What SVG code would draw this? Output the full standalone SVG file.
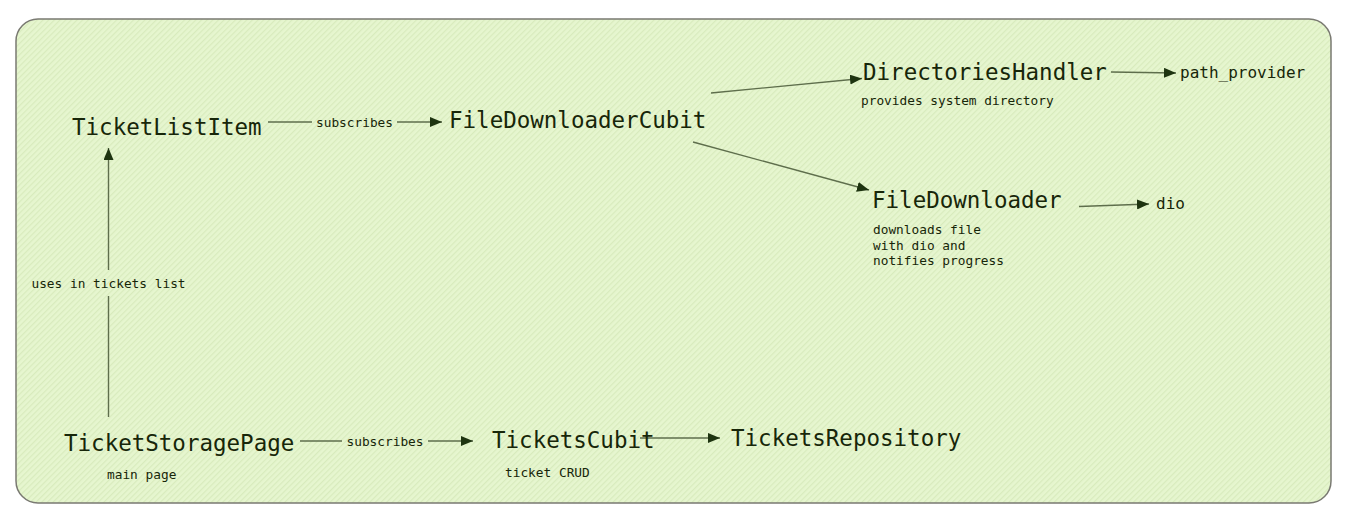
<svg xmlns="http://www.w3.org/2000/svg" width="1357" height="525" viewBox="0 0 1357 525">
<style>
.t{font-family:"DejaVu Sans Mono","Liberation Mono",monospace;fill:#172609}
.big{font-size:22.5px}
.mid{font-size:16px}
.sm{font-size:12.8px}
.c{stroke:#5e6e4c;stroke-width:1.4;fill:none}
.lbl{font-family:"DejaVu Sans Mono","Liberation Mono",monospace;font-size:12.8px;fill:#172609}
</style>
<defs>
<pattern id="st" width="4" height="4" patternUnits="userSpaceOnUse" patternTransform="rotate(45)">
<rect width="4" height="4" fill="#e6f6cf"/>
<rect width="1.2" height="4" fill="#d8ebbd"/>
</pattern>
<marker id="ah" viewBox="0 0 12 10" refX="12" refY="5" markerWidth="12" markerHeight="10" markerUnits="userSpaceOnUse" orient="auto">
<path d="M0,0 L12,5 L0,10 z" fill="#1e3410"/>
</marker>
</defs>
<rect x="16" y="19" width="1315" height="484" rx="22" fill="url(#st)" stroke="#7a7a72" stroke-width="1.5"/>
<g id="connectors">
<line class="c" x1="268" y1="122" x2="312" y2="122"/>
<line class="c" x1="397" y1="122" x2="442" y2="122" marker-end="url(#ah)"/>
<text class="lbl" x="354.5" y="127" text-anchor="middle">subscribes</text>
<line class="c" x1="711" y1="93" x2="862" y2="78.5" marker-end="url(#ah)"/>
<line class="c" x1="693" y1="142" x2="869" y2="190" marker-end="url(#ah)"/>
<line class="c" x1="1111" y1="72" x2="1176" y2="73" marker-end="url(#ah)"/>
<line class="c" x1="1079" y1="206.5" x2="1149" y2="204" marker-end="url(#ah)"/>
<line class="c" x1="108.5" y1="417" x2="108.5" y2="296"/>
<line class="c" x1="108.5" y1="270" x2="108.5" y2="148" marker-end="url(#ah)"/>
<text class="lbl" x="108.5" y="288" text-anchor="middle">uses in tickets list</text>
<line class="c" x1="300" y1="441" x2="342" y2="441"/>
<line class="c" x1="428" y1="441" x2="473" y2="441" marker-end="url(#ah)"/>
<text class="lbl" x="385" y="446" text-anchor="middle">subscribes</text>
<line class="c" x1="640" y1="438" x2="720" y2="438" marker-end="url(#ah)"/>
</g>
<g id="TicketListItem"><text class="t big" x="72" y="135">TicketListItem</text></g>
<g id="FileDownloaderCubit"><text class="t big" x="449" y="128">FileDownloaderCubit</text></g>
<g id="DirectoriesHandler"><text class="t big" x="863" y="80">DirectoriesHandler</text>
<text class="t sm" x="861" y="105">provides system directory</text></g>
<g id="path_provider"><text class="t mid" x="1180" y="78">path_provider</text></g>
<g id="FileDownloader"><text class="t big" x="872" y="208">FileDownloader</text>
<text class="t sm" x="873" y="234">downloads file</text>
<text class="t sm" x="873" y="250">with dio and</text>
<text class="t sm" x="873" y="265">notifies progress</text></g>
<g id="dio"><text class="t mid" x="1156" y="209">dio</text></g>
<g id="TicketStoragePage"><text class="t big" x="64" y="451">TicketStoragePage</text>
<text class="t sm" x="107" y="479">main page</text></g>
<g id="TicketsCubit"><text class="t big" x="492" y="448">TicketsCubit</text>
<text class="t sm" x="505" y="477">ticket CRUD</text></g>
<g id="TicketsRepository"><text class="t big" x="731" y="446">TicketsRepository</text></g>
</svg>
